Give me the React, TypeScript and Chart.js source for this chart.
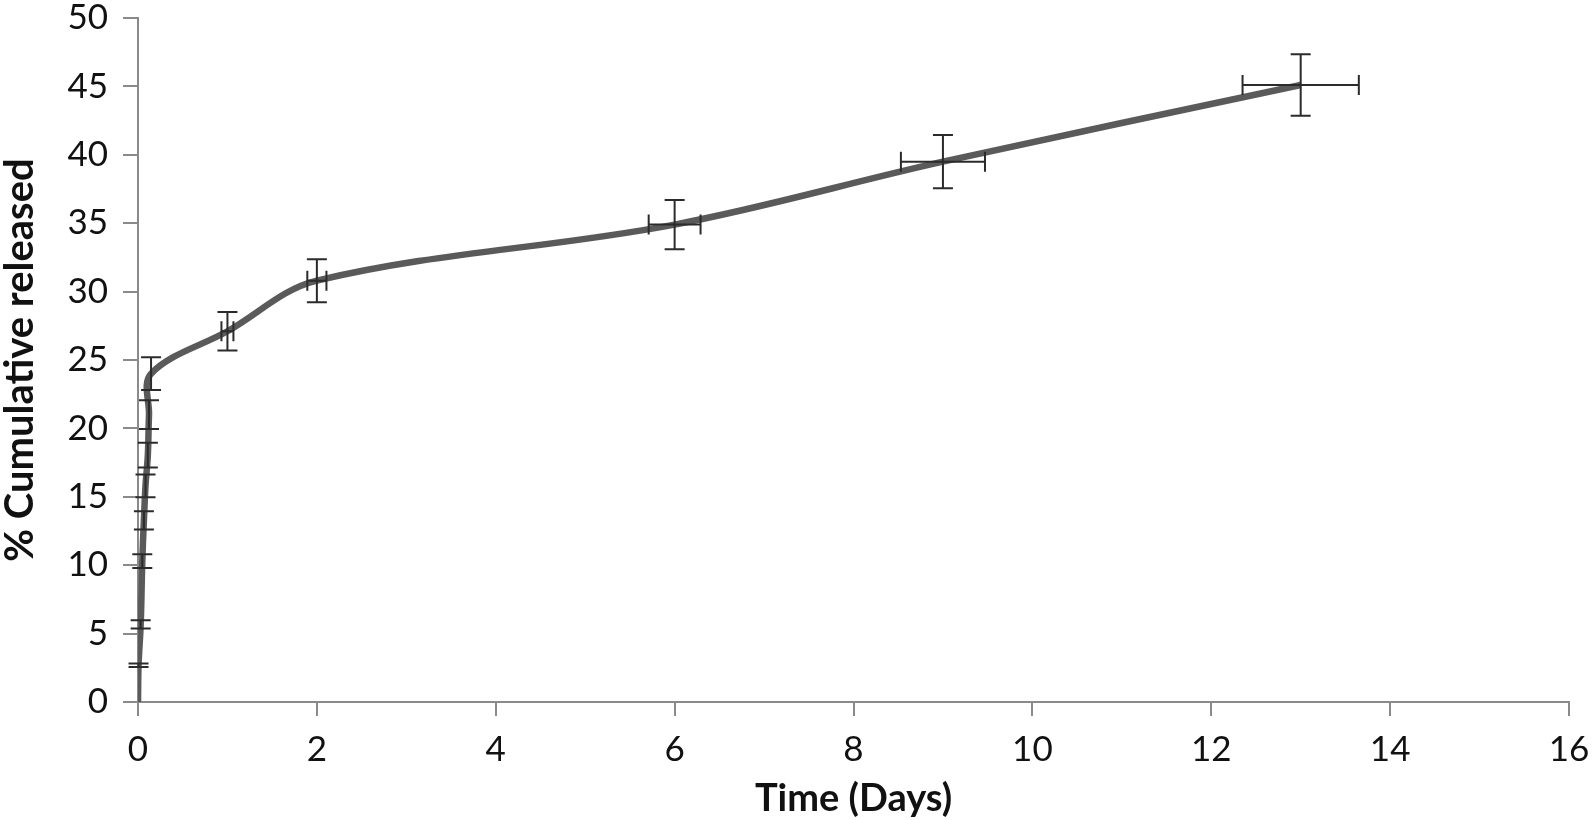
import React, { useEffect, useRef } from "react";
import { Chart, registerables } from "chart.js";

Chart.register(...registerables);

// Time in days
const times = [0, 0.006, 0.03, 0.048, 0.066, 0.084, 0.11, 0.123, 0.146, 1, 2, 6, 9, 13];
// % cumulative released
const released = [0, 2.68, 5.67, 10.3, 13.28, 15.8, 18.05, 21.0, 24.0, 27.1, 30.8, 34.9, 39.5, 45.1];
// vertical error (±)
const releasedErr = [0, 0.13, 0.3, 0.5, 0.67, 0.83, 0.9, 1.05, 1.2, 1.4, 1.57, 1.8, 1.95, 2.25];
// horizontal error (±, days)
const timeErr = [0, 0, 0, 0, 0, 0, 0, 0, 0, 0.067, 0.107, 0.29, 0.47, 0.65];

const xTickMin = 0;
const xTickMax = 16;
const xTickStep = 2;
const yTickMin = 0;
const yTickMax = 50;
const yTickStep = 5;

const errorBarPlugin = {
  id: "errorBars",
  afterDatasetsDraw(chart: any) {
    const ctx = chart.ctx;
    const xs = chart.scales.x;
    const ys = chart.scales.y;
    const cap = 10;
    ctx.save();
    ctx.strokeStyle = "#2b2b2b";
    ctx.lineWidth = 2;
    ctx.lineCap = "butt";
    for (let i = 0; i < times.length; i++) {
      const px = xs.getPixelForValue(times[i]);
      const py = ys.getPixelForValue(released[i]);
      if (releasedErr[i] > 0) {
        const y1 = ys.getPixelForValue(released[i] + releasedErr[i]);
        const y2 = ys.getPixelForValue(released[i] - releasedErr[i]);
        ctx.beginPath();
        ctx.moveTo(px, y1);
        ctx.lineTo(px, y2);
        ctx.moveTo(px - cap, y1);
        ctx.lineTo(px + cap, y1);
        ctx.moveTo(px - cap, y2);
        ctx.lineTo(px + cap, y2);
        ctx.stroke();
      }
      if (timeErr[i] > 0) {
        const x1 = xs.getPixelForValue(times[i] - timeErr[i]);
        const x2 = xs.getPixelForValue(times[i] + timeErr[i]);
        ctx.beginPath();
        ctx.moveTo(x1, py);
        ctx.lineTo(x2, py);
        ctx.moveTo(x1, py - cap);
        ctx.lineTo(x1, py + cap);
        ctx.moveTo(x2, py - cap);
        ctx.lineTo(x2, py + cap);
        ctx.stroke();
      }
    }
    ctx.restore();
  },
};

export default function App() {
  const canvasRef = useRef<HTMLCanvasElement | null>(null);

  useEffect(() => {
    document.body.style.margin = "0";
    const canvas = canvasRef.current;
    if (!canvas) return;
    const data = times.map((t, i) => ({ x: t, y: released[i] }));
    const chart = new Chart(canvas, {
      type: "scatter",
      data: {
        datasets: [
          {
            data,
            showLine: true,
            borderColor: "#5a5a5a",
            borderWidth: 6.5,
            pointRadius: 0,
            tension: 0.35,
            fill: false,
          },
        ],
      },
      options: {
        responsive: false,
        animation: false,
        devicePixelRatio: 1,
        layout: { padding: { top: 18, right: 25, left: 0, bottom: 0 } },
        plugins: {
          legend: { display: false },
          tooltip: { enabled: false },
        },
        scales: {
          x: {
            type: "linear",
            min: xTickMin,
            max: xTickMax,
            ticks: {
              stepSize: xTickStep,
              color: "#111",
              padding: 13,
              font: { family: "Lato", size: 35 },
            },
            grid: {
              drawOnChartArea: false,
              drawTicks: true,
              tickLength: 14,
              color: "#8a8a8a",
              lineWidth: 2,
            },
            border: { color: "#8a8a8a", width: 2 },
            title: {
              display: true,
              text: "Time (Days)",
              color: "#111",
              font: { family: "Lato", size: 38, weight: "bold", lineHeight: 0.9 },
              padding: { top: 0, bottom: 4 },
            },
            afterFit(scale: any) {
              scale.height = 118;
              scale.paddingLeft = 0;
              scale.paddingRight = 0;
            },
          },
          y: {
            type: "linear",
            min: yTickMin,
            max: yTickMax,
            ticks: {
              stepSize: yTickStep,
              color: "#111",
              padding: 15,
              font: { family: "Lato", size: 35 },
            },
            grid: {
              drawOnChartArea: false,
              drawTicks: true,
              tickLength: 15,
              color: "#8a8a8a",
              lineWidth: 2,
            },
            border: { color: "#8a8a8a", width: 2 },
            title: {
              display: true,
              text: "% Cumulative released",
              color: "#111",
              font: { family: "Lato", size: 40, weight: "bold", lineHeight: 1 },
              padding: { top: 0, bottom: 0 },
            },
            afterFit(scale: any) {
              scale.width = 138;
              scale.paddingTop = 0;
              scale.paddingBottom = 0;
            },
          },
        },
      },
      plugins: [errorBarPlugin],
    });
    return () => chart.destroy();
  }, []);

  return (
    <div style={{ position: "fixed", left: 0, top: 0, width: 1594, height: 820, background: "#fff" }}>
      <canvas ref={canvasRef} width={1594} height={820} style={{ width: 1594, height: 820 }} />
    </div>
  );
}
